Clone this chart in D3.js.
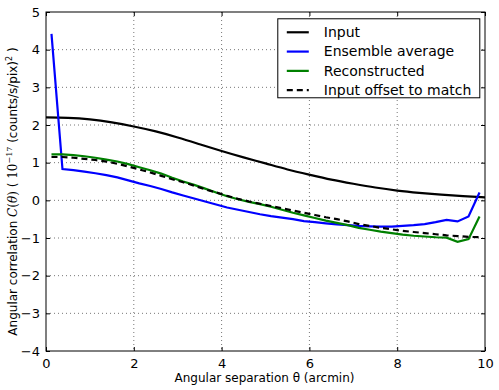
<!DOCTYPE html>
<html>
<head>
<meta charset="utf-8">
<script src="https://cdn.jsdelivr.net/npm/d3@7"></script>
<style>
  body { margin: 0; background: #fff; }
  svg text { font-family: "DejaVu Sans", sans-serif; }
</style>
</head>
<body>
<svg id="chart"></svg>
<script>
// bin centres for the measured curves
var theta = [0.125, 0.375, 0.625, 0.875, 1.125, 1.375, 1.625, 1.875, 2.125, 2.375,
             2.625, 2.875, 3.125, 3.375, 3.625, 3.875, 4.125, 4.375, 4.625, 4.875,
             5.125, 5.375, 5.625, 5.875, 6.125, 6.375, 6.625, 6.875, 7.125, 7.375,
             7.625, 7.875, 8.125, 8.375, 8.625, 8.875, 9.125, 9.375, 9.625, 9.875];

var ensemble = [4.42, 0.83, 0.80, 0.76, 0.72, 0.67, 0.61, 0.53, 0.45, 0.38,
                0.30, 0.21, 0.13, 0.05, -0.03, -0.11, -0.19, -0.25, -0.31, -0.37,
                -0.42, -0.46, -0.50, -0.55, -0.58, -0.61, -0.64, -0.66, -0.68, -0.69,
                -0.70, -0.70, -0.68, -0.66, -0.63, -0.58, -0.52, -0.56, -0.43, 0.21];

var reconstructed = [1.22, 1.22, 1.20, 1.17, 1.13, 1.08, 1.03, 0.96, 0.88, 0.80,
                     0.71, 0.60, 0.50, 0.41, 0.31, 0.21, 0.11, 0.03, -0.04, -0.10,
                     -0.17, -0.25, -0.33, -0.40, -0.47, -0.54, -0.60, -0.66, -0.73, -0.78,
                     -0.83, -0.87, -0.91, -0.94, -0.96, -0.98, -0.99, -1.10, -1.03, -0.43];

var offsetInput = [1.15, 1.15, 1.13, 1.10, 1.07, 1.03, 0.97, 0.90, 0.82, 0.74,
                   0.65, 0.56, 0.48, 0.39, 0.29, 0.21, 0.12, 0.04, -0.03, -0.09,
                   -0.15, -0.21, -0.27, -0.33, -0.39, -0.45, -0.50, -0.56, -0.63, -0.68,
                   -0.73, -0.77, -0.81, -0.84, -0.87, -0.90, -0.93, -0.95, -0.97, -0.98];

// the input model is drawn on a finer, smooth grid
var inputTheta = [0, 0.5, 1, 1.5, 2, 2.5, 3, 3.5, 4, 4.5, 5, 5.5, 6, 6.5, 7, 7.5, 8, 8.5, 9, 9.5, 10];
var inputVals  = [2.20, 2.19, 2.15, 2.07, 1.96, 1.83, 1.67, 1.49, 1.31, 1.14, 0.98,
                  0.82, 0.68, 0.55, 0.44, 0.34, 0.26, 0.20, 0.15, 0.11, 0.08];

var xTicks = [0, 2, 4, 6, 8, 10];
var yTicks = [-4, -3, -2, -1, 0, 1, 2, 3, 4, 5];

var seriesNames = ["Input", "Ensemble average", "Reconstructed", "Input offset to match"];
var seriesColors = ["#000000", "#0000ff", "#008000", "#000000"];
var seriesDash = [null, null, null, "6,4"];

var W = 499, H = 390;
var margin = {top: 12, right: 14, bottom: 39, left: 46};
var width = W - margin.left - margin.right,
    height = H - margin.top - margin.bottom;

var svg = d3.select("#chart").attr("width", W).attr("height", H);
var g = svg.append("g")
  .attr("transform", "translate(" + margin.left + "," + margin.top + ")");

var x = d3.scaleLinear().domain([0, 10]).range([0, width]);
var y = d3.scaleLinear().domain([-4, 5]).range([height, 0]);

var fmt = function(d) { return d < 0 ? "\u2212" + Math.abs(d) : String(d); };

// dotted grid
g.append("g").selectAll("line").data(xTicks.slice(1, -1)).enter().append("line")
  .attr("x1", function(d) { return x(d); }).attr("x2", function(d) { return x(d); })
  .attr("y1", 0).attr("y2", height)
  .attr("stroke", "#777").attr("stroke-width", 1).attr("stroke-dasharray", "1,3");
g.append("g").selectAll("line").data(yTicks.slice(1, -1)).enter().append("line")
  .attr("y1", function(d) { return y(d); }).attr("y2", function(d) { return y(d); })
  .attr("x1", 0).attr("x2", width)
  .attr("stroke", "#777").attr("stroke-width", 1).attr("stroke-dasharray", "1,3");

// axes, ticks pointing inward on all four sides
function styleAxis(sel) {
  sel.select(".domain").remove();
  sel.selectAll("text").attr("font-size", 13).attr("fill", "#000");
  sel.selectAll("line").attr("stroke", "#000");
}
g.append("g").attr("transform", "translate(0," + height + ")")
  .call(d3.axisBottom(x).tickValues(xTicks).tickFormat(fmt).tickSizeInner(-4).tickPadding(8))
  .call(styleAxis);
g.append("g")
  .call(d3.axisTop(x).tickValues(xTicks).tickFormat("").tickSizeInner(-4))
  .call(styleAxis);
g.append("g")
  .call(d3.axisLeft(y).tickValues(yTicks).tickFormat(fmt).tickSizeInner(-4).tickPadding(6))
  .call(styleAxis);
g.append("g").attr("transform", "translate(" + width + ",0)")
  .call(d3.axisRight(y).tickValues(yTicks).tickFormat("").tickSizeInner(-4))
  .call(styleAxis);

// series
var line = d3.line()
  .x(function(d) { return x(d[0]); })
  .y(function(d) { return y(d[1]); });

g.append("clipPath").attr("id", "clip").append("rect")
  .attr("width", width).attr("height", height);

var series = [
  {pts: d3.zip(inputTheta, inputVals), curve: d3.curveNatural},
  {pts: d3.zip(theta, ensemble), curve: d3.curveLinear},
  {pts: d3.zip(theta, reconstructed), curve: d3.curveLinear},
  {pts: d3.zip(theta, offsetInput), curve: d3.curveLinear}
];
series.forEach(function(s, i) {
  g.append("path")
    .attr("clip-path", "url(#clip)")
    .attr("d", line.curve(s.curve)(s.pts))
    .attr("fill", "none")
    .attr("stroke", seriesColors[i])
    .attr("stroke-width", 2.2)
    .attr("stroke-dasharray", seriesDash[i]);
});

// frame
g.append("rect").attr("width", width).attr("height", height)
  .attr("fill", "none").attr("stroke", "#000").attr("stroke-width", 1);

// legend
var lg = g.append("g").attr("transform", "translate(" + (x(5.28)) + "," + (y(4.82)) + ")");
lg.append("rect").attr("width", 202).attr("height", 79)
  .attr("fill", "#fff").attr("stroke", "#000").attr("stroke-width", 1);
seriesNames.forEach(function(name, i) {
  var ry = 13.5 + i * 19.3;
  lg.append("line").attr("x1", 9).attr("x2", 31).attr("y1", ry).attr("y2", ry)
    .attr("stroke", seriesColors[i]).attr("stroke-width", 2.2)
    .attr("stroke-dasharray", seriesDash[i]);
  lg.append("text").attr("x", 46).attr("y", ry).attr("dy", "0.35em")
    .attr("font-size", 14).text(name);
});

// axis labels
svg.append("text")
  .attr("x", margin.left + width / 2 - 1).attr("y", H - 8)
  .attr("text-anchor", "middle").attr("font-size", 12)
  .text("Angular separation \u03b8 (arcmin)");

var yl = svg.append("text")
  .attr("transform", "translate(17," + (margin.top + height / 2 + 10) + ") rotate(-90)")
  .attr("text-anchor", "middle").attr("font-size", 12);
yl.append("tspan").text("Angular correlation ");
yl.append("tspan").attr("font-style", "italic").attr("font-family", "DejaVu Serif").text("C");
yl.append("tspan").attr("font-family", "DejaVu Serif").text("(");
yl.append("tspan").attr("font-style", "italic").attr("font-family", "DejaVu Serif").text("\u03b8");
yl.append("tspan").attr("font-family", "DejaVu Serif").text(")");
yl.append("tspan").text(" (  ");
yl.append("tspan").attr("font-family", "DejaVu Serif").text("10");
yl.append("tspan").attr("font-family", "DejaVu Serif").attr("font-size", 8).attr("dy", -5).text("\u221217");
yl.append("tspan").attr("dy", 5).text(" (counts/s/pix)");
yl.append("tspan").attr("font-size", 8).attr("dy", -5).text("2");
yl.append("tspan").attr("dy", 5).text("  )");
</script>
</body>
</html>
